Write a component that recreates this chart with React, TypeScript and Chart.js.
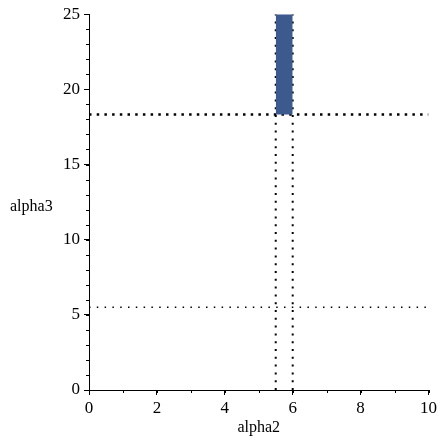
import React, { useEffect, useRef } from "react";
import { Chart, registerables } from "chart.js";

Chart.register(...registerables);

const xRange = [0, 10];
const yRange = [0, 25];
const regionX = [5.5, 6];
const regionY = [18.33, 25];
const horizLines = [18.33, 5.5];
const vertLines = [5.5, 6];
const xMajorStep = 2;
const yMajorStep = 5;
const xMinorStep = 1;
const yMinorStep = 1;
const xTitle = "alpha2";
const yTitle = "alpha3";

const FONT = '"Liberation Serif", "Times New Roman", serif';

const App = () => {
  const ref = useRef<HTMLCanvasElement | null>(null);
  useEffect(() => {
    let chart: any = null;
    let cancelled = false;
    const build = () => {
      if (cancelled || !ref.current) return;
      const extrasPlugin = {
        id: "extras",
        afterDraw(c: any) {
          const ctx = c.ctx;
          const xs = c.scales.x;
          const ys = c.scales.y;
          ctx.save();
          ctx.strokeStyle = "#000";
          ctx.lineWidth = 1;
          ctx.beginPath();
          for (let v = xRange[0]; v <= xRange[1] + 1e-9; v += xMinorStep) {
            const px = Math.round(xs.getPixelForValue(v)) + 0.5;
            ctx.moveTo(px, ys.bottom);
            ctx.lineTo(px, ys.bottom + 3);
          }
          for (let v = yRange[0]; v <= yRange[1] + 1e-9; v += yMinorStep) {
            const py = Math.round(ys.getPixelForValue(v)) + 0.5;
            ctx.moveTo(xs.left, py);
            ctx.lineTo(xs.left - 3, py);
          }
          ctx.stroke();
          ctx.fillStyle = "#000";
          ctx.font = `16px ${FONT}`;
          ctx.textAlign = "left";
          ctx.textBaseline = "middle";
          ctx.fillText(yTitle, 10, ys.getPixelForValue(12.2));
          ctx.restore();
        },
      };
      chart = new Chart(ref.current, {
        type: "line",
        data: {
          datasets: [
            {
              data: [
                { x: regionX[0], y: regionY[1] },
                { x: regionX[1], y: regionY[1] },
              ],
              borderColor: "#8a98b8",
              borderWidth: 1,
              backgroundColor: "#3d5a8e",
              fill: "+1",
              pointRadius: 0,
            },
            {
              data: [
                { x: regionX[0], y: regionY[0] },
                { x: regionX[1], y: regionY[0] },
              ],
              borderColor: "#3d5a8e",
              borderWidth: 0,
              pointRadius: 0,
            },
            {
              data: [
                { x: xRange[0], y: horizLines[0] },
                { x: xRange[1], y: horizLines[0] },
              ],
              borderColor: "#000",
              borderWidth: 2.5,
              borderDash: [2.5, 5.2],
              pointRadius: 0,
            },
            {
              data: [
                { x: xRange[0], y: horizLines[1] },
                { x: xRange[1], y: horizLines[1] },
              ],
              borderColor: "#000",
              borderWidth: 1.5,
              borderDash: [1.5, 6.3],
              pointRadius: 0,
            },
            ...vertLines.map((v) => ({
              data: [
                { x: v, y: yRange[0] },
                { x: v, y: yRange[1] },
              ],
              borderColor: "#000",
              borderWidth: 2,
              borderDash: [2, 5.8],
              pointRadius: 0,
            })),
          ],
        },
        options: {
          animation: false,
          responsive: false,
          layout: { padding: { top: 14, right: 8, left: 0, bottom: 0 } },
          plugins: { legend: { display: false }, tooltip: { enabled: false } },
          scales: {
            x: {
              type: "linear",
              min: xRange[0],
              max: xRange[1],
              border: { color: "#000", width: 1 },
              grid: { drawOnChartArea: false, color: "#000", tickLength: 5 },
              ticks: {
                stepSize: xMajorStep,
                color: "#000",
                font: { family: FONT, size: 17 },
                padding: 3,
                maxRotation: 0,
                autoSkip: false,
              },
              title: {
                display: true,
                text: xTitle,
                color: "#000",
                font: { family: FONT, size: 16 },
                padding: { top: 0, bottom: 0 },
              },
              afterFit: (s: any) => {
                s.height = 47;
              },
            },
            y: {
              type: "linear",
              min: yRange[0],
              max: yRange[1],
              border: { color: "#000", width: 1 },
              grid: { drawOnChartArea: false, color: "#000", tickLength: 5 },
              ticks: {
                stepSize: yMajorStep,
                color: "#000",
                font: { family: FONT, size: 17 },
                padding: 4,
                autoSkip: false,
              },
              afterFit: (s: any) => {
                s.width = 89;
              },
            },
          },
        },
        plugins: [extrasPlugin],
      });
    };
    const fontsApi: any = (document as any).fonts;
    if (fontsApi && fontsApi.load) {
      Promise.all([
        fontsApi.load('16px "Liberation Serif"'),
        fontsApi.load('17px "Liberation Serif"'),
      ])
        .catch(() => null)
        .then(build);
    } else {
      build();
    }
    return () => {
      cancelled = true;
      if (chart) chart.destroy();
    };
  }, []);
  return (
    <div style={{ position: "fixed", left: 0, top: 0, width: 440, height: 437, background: "#fff" }}>
      <canvas ref={ref} width={440} height={437} />
    </div>
  );
};

export default App;
